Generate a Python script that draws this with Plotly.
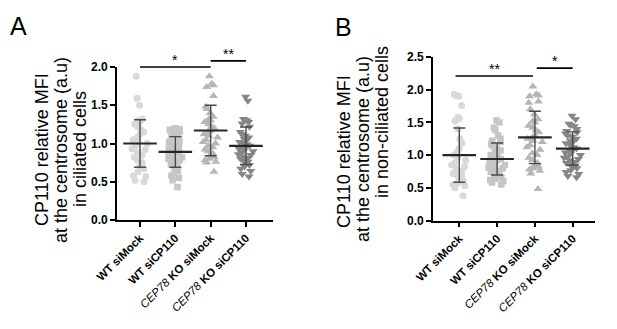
import plotly.graph_objects as go

W, H = 617, 329
OFF = 8  # page body margin compensation (px)

categories = ["WT siMock", "WT siCP110", "CEP78 KO siMock", "CEP78 KO siCP110"]
tick_labels = ["<b>WT siMock</b>", "<b>WT siCP110</b>",
               "<i>CEP78</i><b> KO siMock</b>", "<i>CEP78</i><b> KO siCP110</b>"]

# ---- Panel A: ciliated cells ----
a_wt_simock = [1.88, 1.59, 1.50, 1.32, 1.30, 1.29, 1.25, 1.22, 1.18, 1.15, 1.12, 1.08, 1.05, 1.02, 1.00,
               0.97, 0.93, 0.92, 0.88, 0.85, 0.82, 0.78, 0.75, 0.70, 0.67, 0.63, 0.58, 0.57, 0.52, 0.50]
a_wt_sicp110 = [1.20, 1.19, 1.18, 1.16, 1.14, 1.12, 1.10, 1.08, 1.06, 1.05, 1.03, 1.01, 1.00, 0.98, 0.97,
                0.95, 0.94, 0.92, 0.91, 0.90, 0.89, 0.88, 0.87, 0.86, 0.85, 0.84, 0.82, 0.81, 0.80, 0.78,
                0.76, 0.75, 0.73, 0.71, 0.69, 0.67, 0.64, 0.61, 0.58, 0.55, 0.52, 0.43]
a_ko_simock = [1.88, 1.78, 1.76, 1.74, 1.62, 1.48, 1.45, 1.40, 1.35, 1.32, 1.30, 1.28, 1.25, 1.22, 1.20,
               1.17, 1.15, 1.12, 1.10, 1.08, 1.05, 1.02, 1.00, 0.97, 0.95, 0.92, 0.90, 0.87, 0.85, 0.82,
               0.80, 0.78, 0.76, 0.75, 0.63]
a_ko_sicp110 = [1.61, 1.56, 1.32, 1.31, 1.30, 1.28, 1.26, 1.22, 1.15, 1.12, 1.10, 1.08, 1.06, 1.04, 1.02,
                1.00, 0.99, 0.97, 0.96, 0.95, 0.93, 0.91, 0.90, 0.88, 0.86, 0.85, 0.83, 0.81, 0.80, 0.78,
                0.76, 0.74, 0.72, 0.70, 0.67, 0.64, 0.60, 0.57]
a_means = [1.00, 0.89, 1.17, 0.97]
a_sds = [0.31, 0.20, 0.33, 0.245]
a_sig = [(0, 2, 2.00, "*"), (2, 3, 2.08, "**")]

# ---- Panel B: non-ciliated cells ----
b_wt_simock = [1.93, 1.91, 1.90, 1.76, 1.58, 1.56, 1.52, 1.40, 1.25, 1.18, 1.10, 1.05, 1.00, 0.96, 0.92,
               0.88, 0.85, 0.82, 0.78, 0.75, 0.72, 0.70, 0.68, 0.65, 0.60, 0.57, 0.55, 0.53, 0.50, 0.38]
b_wt_sicp110 = [1.53, 1.50, 1.42, 1.38, 1.30, 1.25, 1.22, 1.20, 1.17, 1.14, 1.10, 1.07, 1.05, 1.02, 1.00,
                0.98, 0.96, 0.94, 0.92, 0.90, 0.88, 0.86, 0.85, 0.83, 0.81, 0.80, 0.78, 0.76, 0.74, 0.72,
                0.70, 0.68, 0.66, 0.64, 0.62, 0.60, 0.58, 0.55]
b_ko_simock = [2.05, 1.93, 1.91, 1.90, 1.82, 1.80, 1.70, 1.62, 1.55, 1.52, 1.50, 1.45, 1.42, 1.38, 1.35,
               1.30, 1.27, 1.25, 1.22, 1.20, 1.15, 1.12, 1.08, 1.03, 1.00, 0.96, 0.92, 0.88, 0.85, 0.82,
               0.80, 0.78, 0.76, 0.72, 0.48]
b_ko_sicp110 = [1.60, 1.55, 1.48, 1.46, 1.44, 1.40, 1.37, 1.35, 1.33, 1.30, 1.28, 1.25, 1.22, 1.20, 1.18,
                1.15, 1.12, 1.10, 1.08, 1.06, 1.04, 1.02, 1.00, 0.98, 0.96, 0.94, 0.92, 0.90, 0.88, 0.86,
                0.84, 0.82, 0.80, 0.77, 0.74, 0.71, 0.68, 0.66]
b_means = [1.00, 0.94, 1.27, 1.10]
b_sds = [0.415, 0.245, 0.40, 0.255]
b_sig = [(-0.1, 1.95, 2.21, "**"), (2.05, 3.0, 2.33, "*")]

symbols = ["circle", "square", "triangle-up", "triangle-down"]
sizes = [7, 6.5, 8, 8]
colors = ["#d9d9d9", "#c6c6c6", "#b6b6b6", "#868686"]

FONT = "Arial, Liberation Sans, sans-serif"


def px_x(x):
    return (x - OFF) / W


def px_y(y):
    return 1 - (y - OFF) / H


fig = go.Figure()


def add_panel(xa, ya, groups, means, sds):
    for i, vals in enumerate(groups):
        fig.add_trace(go.Box(
            x=[i] * len(vals), y=vals, boxpoints="all", jitter=0.95, pointpos=0,
            fillcolor="rgba(0,0,0,0)", line=dict(width=0, color="rgba(0,0,0,0)"),
            marker=dict(symbol=symbols[i], size=sizes[i], color=colors[i], line=dict(width=0)),
            xaxis=xa, yaxis=ya, showlegend=False, hoveron="points"))
    fig.add_trace(go.Scatter(
        x=list(range(len(means))), y=means, mode="markers",
        marker=dict(symbol="line-ew", size=24, line=dict(width=2.2, color="#262626")),
        error_y=dict(type="data", array=sds, visible=True, color="#4a4a4a", thickness=1.4, width=6),
        xaxis=xa, yaxis=ya, showlegend=False))


add_panel("x", "y", [a_wt_simock, a_wt_sicp110, a_ko_simock, a_ko_sicp110], a_means, a_sds)
add_panel("x2", "y2", [b_wt_simock, b_wt_sicp110, b_ko_simock, b_ko_sicp110], b_means, b_sds)

axis_common = dict(showline=True, linewidth=1.6, linecolor="black", ticks="outside", ticklen=5,
                   tickwidth=1.5, tickcolor="black", showgrid=False, zeroline=False, mirror=False,
                   automargin=False)

xdef = dict(tickvals=list(range(len(categories))), ticktext=tick_labels, tickangle=-45,
            tickfont=dict(family=FONT, size=11.5, color="black"), **axis_common)
ydef = dict(dtick=0.5, tickformat=".1f",
            tickfont=dict(family=FONT, size=12, color="black", weight="bold"), **axis_common)

fig.update_layout(
    template="none",
    width=W, height=H, margin=dict(l=0, r=0, t=0, b=0, autoexpand=False),
    paper_bgcolor="white", plot_bgcolor="white", boxmode="overlay", showlegend=False,
    xaxis=dict(domain=[px_x(117), px_x(273)], range=[-0.651, 3.764], anchor="y", **xdef),
    yaxis=dict(domain=[px_y(220), px_y(67)], range=[0, 2.0], anchor="x", **ydef),
    xaxis2=dict(domain=[px_x(433), px_x(595)], range=[-0.696, 3.59], anchor="y2", **xdef),
    yaxis2=dict(domain=[px_y(220.5), px_y(57)], range=[0, 2.5], anchor="x2", **ydef),
)

# significance bars
for xa, yref, ymax, sig in [("x", "y domain", 2.0, a_sig), ("x2", "y2 domain", 2.5, b_sig)]:
    for x0, x1, h, label in sig:
        fig.add_shape(type="line", xref=xa, yref=yref, x0=x0, x1=x1, y0=h / ymax, y1=h / ymax,
                      line=dict(color="black", width=1.6))
        fig.add_annotation(xref=xa, yref=yref, x=(x0 + x1) / 2, y=h / ymax, text=label,
                           showarrow=False, yanchor="bottom", yshift=-3,
                           font=dict(family=FONT, size=14, color="black"))

# y-axis titles (three lines each)
titles = [
    (["CP110 relative MFI", "at the centrosome (a.u)", "in ciliated cells"], [42, 61, 80], [150, 150, 149]),
    (["CP110 relative MFI", "at the centrosome (a.u)", "in non-ciliated cells"], [344, 363, 382], [151, 149, 122]),
]
for lines, xs, ys in titles:
    for txt, xp, yp in zip(lines, xs, ys):
        fig.add_annotation(xref="paper", yref="paper", x=px_x(xp), y=px_y(yp), text=txt,
                           textangle=-90, showarrow=False, xanchor="center", yanchor="middle",
                           font=dict(family=FONT, size=18, color="black"))

# panel letters
for letter, xp, yp in [("A", 18, 26), ("B", 343, 27)]:
    fig.add_annotation(xref="paper", yref="paper", x=px_x(xp), y=px_y(yp), text=letter,
                       showarrow=False, xanchor="center", yanchor="middle",
                       font=dict(family=FONT, size=25, color="black"))

fig.write_html("out.html")
